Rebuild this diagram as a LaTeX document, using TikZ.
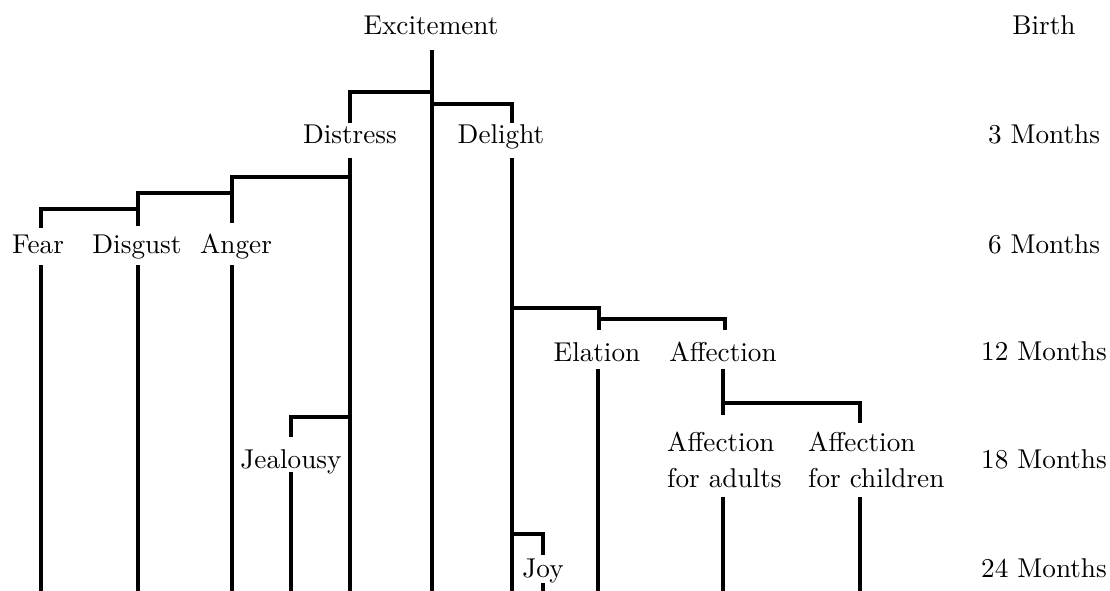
\documentclass[tikz,border=0pt]{standalone}
\usepackage{fontspec}
\setmainfont{lmroman10-regular}[Extension=.otf,BoldFont=lmroman10-bold]
\begin{document}
\begin{tikzpicture}[x=1pt,y=-1pt,
  lbl/.style={inner sep=0pt,anchor=base,font=\fontsize{27.2}{36}\selectfont},
  two/.style={inner sep=0pt,anchor=north west,align=left,font=\fontsize{27.2}{36}\selectfont},
  ln/.style={line width=3.2pt,black}]
\useasboundingbox (0,0) rectangle (1110,591);
% emotion labels
\node[lbl] (exc) at (431,35) {Excitement};
\node[lbl] (dis) at (350,143) {Distress};
\node[lbl] (del) at (501,143) {Delight};
\node[lbl] (fear) at (38,253) {Fear};
\node[lbl] (disg) at (137,253) {Disgust};
\node[lbl] (ang) at (236,253) {Anger};
\node[lbl] (ela) at (597,361) {Elation};
\node[lbl] (aff) at (723,361) {Affection};
\node[lbl] (jeal) at (291,468) {Jealousy};
\node[lbl] (joy) at (543,577) {Joy};
\node[two] (afa) at (667,432) {Affection\\for adults};
\node[two] (afc) at (808,432) {Affection\\for children};
% age labels
\node[lbl] (a0) at (1044,35) {Birth};
\node[lbl] (a3) at (1044,143) {3 Months};
\node[lbl] (a6) at (1044,253) {6 Months};
\node[lbl] (a12) at (1044,360) {12 Months};
\node[lbl] (a18) at (1044,468) {18 Months};
\node[lbl] (a24) at (1044,577) {24 Months};
% branch points and line ends
\coordinate (excT) at (432,50);   \coordinate (excB) at (432,591);
\coordinate (bDis) at (432,92);   \coordinate (disT) at (350,123);
\coordinate (bDel) at (432,104);  \coordinate (delT) at (512,123);
\coordinate (disS) at (350,158);  \coordinate (disB) at (350,591);
\coordinate (delS) at (512,158);  \coordinate (delB) at (512,591);
\coordinate (bAng) at (350,177);  \coordinate (angT) at (232,223);
\coordinate (bDisg) at (232,193); \coordinate (disgT) at (138,226);
\coordinate (bFear) at (138,209); \coordinate (fearT) at (41,228);
\coordinate (fearS) at (41,265);  \coordinate (fearB) at (41,591);
\coordinate (disgS) at (138,265); \coordinate (disgB) at (138,591);
\coordinate (angS) at (232,265);  \coordinate (angB) at (232,591);
\coordinate (bJeal) at (350,417); \coordinate (jealT) at (291,437);
\coordinate (jealS) at (291,472); \coordinate (jealB) at (291,591);
\coordinate (bEla) at (512,308);  \coordinate (elaT) at (599,330);
\coordinate (bAff) at (599,319);  \coordinate (affT) at (725,330);
\coordinate (elaS) at (598,369);  \coordinate (elaB) at (598,591);
\coordinate (affS) at (723,369);  \coordinate (affE) at (723,415);
\coordinate (bAfc) at (723,403);  \coordinate (afcT) at (860,423);
\coordinate (afaS) at (723,497);  \coordinate (afaB) at (723,591);
\coordinate (afcS) at (860,497);  \coordinate (afcB) at (860,591);
\coordinate (bJoy) at (512,534);  \coordinate (joyT) at (543,555);
\coordinate (joyS) at (543,583);  \coordinate (joyB) at (543,591);
% connectors
\draw[ln] (excT) -- (excB);
\draw[ln] (bDis) -| (disT);
\draw[ln] (bDel) -| (delT);
\draw[ln] (disS) -- (disB);
\draw[ln] (delS) -- (delB);
\draw[ln] (bAng) -| (angT);
\draw[ln] (bDisg) -| (disgT);
\draw[ln] (bFear) -| (fearT);
\draw[ln] (fearS) -- (fearB);
\draw[ln] (disgS) -- (disgB);
\draw[ln] (angS) -- (angB);
\draw[ln] (bJeal) -| (jealT);
\draw[ln] (jealS) -- (jealB);
\draw[ln] (bEla) -| (elaT);
\draw[ln] (bAff) -| (affT);
\draw[ln] (elaS) -- (elaB);
\draw[ln] (affS) -- (affE);
\draw[ln] (bAfc) -| (afcT);
\draw[ln] (afaS) -- (afaB);
\draw[ln] (afcS) -- (afcB);
\draw[ln] (bJoy) -| (joyT);
\draw[ln] (joyS) -- (joyB);
\end{tikzpicture}
\end{document}
